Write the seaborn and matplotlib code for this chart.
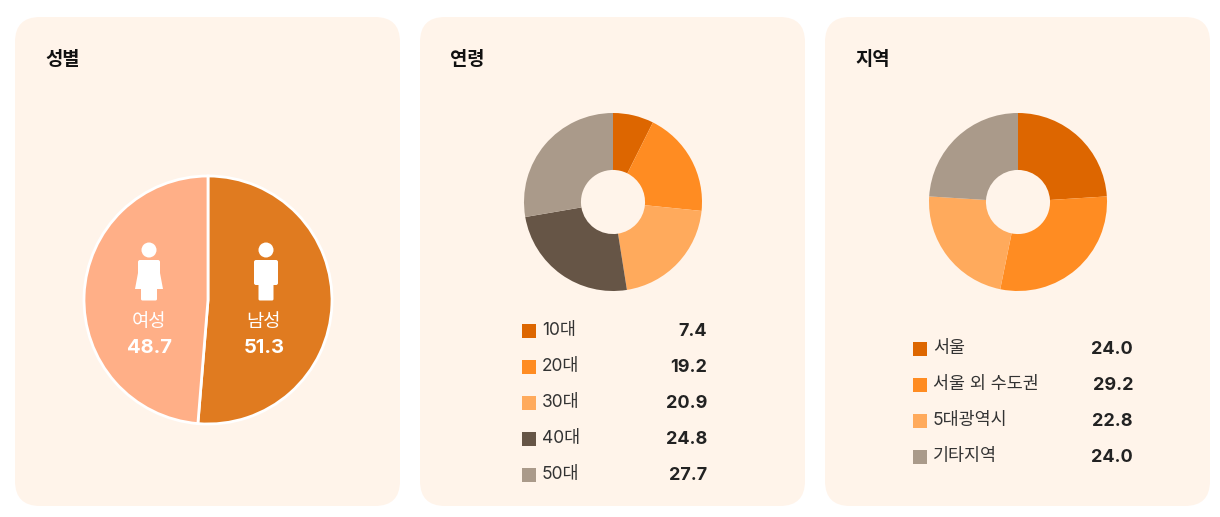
import seaborn as sns
import matplotlib.pyplot as plt
from matplotlib.patches import FancyBboxPatch, Circle

# data
gender_labels = ["남성", "여성"]
gender_values = [51.3, 48.7]
gender_colors = ["#E07B20", "#FFAF87"]

age_labels = ["10대", "20대", "30대", "40대", "50대"]
age_values = [7.4, 19.2, 20.9, 24.8, 27.7]
age_colors = ["#DD6600", "#FF8C22", "#FFAA5C", "#665546", "#AA9A8A"]

region_labels = ["서울", "서울 외 수도권", "5대광역시", "기타지역"]
region_values = [24.0, 29.2, 22.8, 24.0]
region_colors = ["#DD6600", "#FF8C22", "#FFAA5C", "#AA9A8A"]

titles = ["성별", "연령", "지역"]

sns.set_theme(style="white")
plt.rcParams["font.family"] = ["Inter", "Noto Sans CJK KR", "DejaVu Sans"]

W, H = 1220, 517
fig = plt.figure(figsize=(W / 100, H / 100), dpi=100)
fig.patch.set_facecolor("white")


def pixel_axes():
    ax = fig.add_axes([0, 0, 1, 1])
    ax.set_xlim(0, W)
    ax.set_ylim(H, 0)
    ax.axis("off")
    ax.set_facecolor("none")
    return ax


# panels underneath
bg = pixel_axes()
PANEL = "#FFF4EA"
for x0 in [15, 420, 825]:
    bg.add_patch(FancyBboxPatch((x0 + 25, 17 + 25), 385 - 50, 489 - 50,
                                boxstyle="round,pad=25", fc=PANEL, ec="none"))


def pie_axes(cx, cy, r):
    ax = fig.add_axes([(cx - r) / W, (H - cy - r) / H, 2 * r / W, 2 * r / H])
    ax.set_facecolor("none")
    return ax


# gender pie
ax1 = pie_axes(208, 300, 124)
ax1.pie(gender_values, colors=gender_colors, startangle=90, counterclock=False,
        wedgeprops=dict(edgecolor="white", linewidth=2))
ax1.set_xlim(-1.0, 1.0)
ax1.set_ylim(-1.0, 1.0)

# donuts
for (cx, vals, cols) in [(613, age_values, age_colors), (1018, region_values, region_colors)]:
    ax = pie_axes(cx, 202, 89)
    ax.pie(vals, colors=cols, startangle=90, counterclock=False,
           wedgeprops=dict(width=0.64, edgecolor="none"))
    ax.set_xlim(-1.0, 1.0)
    ax.set_ylim(-1.0, 1.0)

# texts and icons on top
top = pixel_axes()
for i, x0 in enumerate([15, 420, 825]):
    top.text(x0 + 30, 60, titles[i], fontsize=13.5, fontweight="bold",
             color="#111111", va="center", ha="left")


def person(x, top_y, female):
    top.add_patch(Circle((x, top_y - 11), 7.5, fc="white", ec="none"))
    if female:
        top.add_patch(FancyBboxPatch((x - 9, top_y + 1), 18, 20, boxstyle="round,pad=2",
                                     fc="white", ec="none"))
        top.add_patch(plt.Polygon([(x - 14, top_y + 28), (x + 14, top_y + 28),
                                   (x + 11, top_y + 12), (x - 11, top_y + 12)],
                                  fc="white", ec="none"))
        top.add_patch(FancyBboxPatch((x - 6.5, top_y + 27), 13, 11, boxstyle="round,pad=1.5",
                                     fc="white", ec="none"))
    else:
        top.add_patch(FancyBboxPatch((x - 10, top_y + 1), 20, 21, boxstyle="round,pad=2",
                                     fc="white", ec="none"))
        top.add_patch(FancyBboxPatch((x - 6, top_y + 20), 12, 18, boxstyle="round,pad=1.5",
                                     fc="white", ec="none"))


person(149, 261, True)
person(266, 261, False)
for x, lab, val in [(149, gender_labels[1], gender_values[1]),
                    (264, gender_labels[0], gender_values[0])]:
    top.text(x, 323, lab, fontsize=13.5, color="white", ha="center", va="center")
    top.text(x, 348, f"{val:.1f}", fontsize=14.5, fontweight="bold", color="white",
             ha="center", va="center")


def legend(x_sq, x_val, y0, labels, values, colors):
    for k, (lab, val, col) in enumerate(zip(labels, values, colors)):
        y = y0 + 36 * k
        top.scatter([x_sq], [y], marker="s", s=90, color=col, linewidths=0)
        top.text(x_sq + 13, y, lab, fontsize=12.5, color="#333333", va="center", ha="left")
        top.text(x_val, y, f"{val:.1f}", fontsize=13, fontweight="bold", color="#222222",
                 va="center", ha="right")


legend(529, 707, 331, age_labels, age_values, age_colors)
legend(920, 1133, 349, region_labels, region_values, region_colors)

fig.savefig("out.png", dpi=100, facecolor="white")
